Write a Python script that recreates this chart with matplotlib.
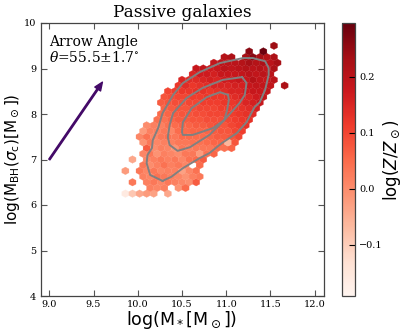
#!/usr/bin/python

import matplotlib
matplotlib.use('Agg')
import matplotlib.pyplot as plt
import numpy as np

_ = None

#hex cells, one row per y: y, x of first cell, log(Z/Zsun) in hundredths
row_y = [9.5, 9.375, 9.25, 9.125, 9.0, 8.875, 8.75, 8.625, 8.5, 8.375, 8.25, 8.125, 8.0, 7.875,
         7.75, 7.625, 7.5, 7.375, 7.25, 7.125, 7.0, 6.875, 6.75, 6.625, 6.5, 6.375, 6.25]
row_x0 = [11.54, 11.26, 10.98, 10.86, 10.66, 10.62, 10.5, 10.46, 10.34, 10.3, 10.26, 10.3, 10.26, 10.22,
          10.1, 10.06, 10.02, 10.06, 10.1, 10.06, 9.94, 10.06, 9.86, 10.06, 9.94, 10.14, 9.86]
row_z = [
    [24],
    [26, _, 29],
    [21, 22, _, 23, 26, 23, 21, 22],
    [19, 20, 20, 20, 21, 23, 21, 22, 20, 23],
    [18, 19, 17, 18, 20, 19, 20, 21, 20, 21, 19, 22],
    [15, 17, 17, 16, 18, 18, 18, 19, 20, 19, 20, 20],
    [15, 14, 14, 15, 16, 15, 17, 17, 18, 18, 21, 19, 18, 20],
    [12, 14, 12, 13, 14, 15, 15, 15, 16, 16, 18, 19, 19, 19, _, 22],
    [10, 11, 12, 12, 13, 13, 12, 13, 14, 15, 15, 17, 18, 18, 19],
    [8, 9, 10, 10, 11, 11, 12, 12, 12, 13, 14, 15, 15, 17, 19],
    [7, 8, 9, 9, 10, 10, 11, 11, 11, 12, 12, 13, 15, 16, 18],
    [6, 7, 8, 8, 9, 10, 10, 10, 11, 11, 12, 13, 14, 16],
    [5, 6, 7, 8, 8, 9, 9, 10, 10, 10, 11, 12, 13, 14],
    [4, 4, 6, 7, 7, 8, 8, 9, 9, 9, 10, 11, 12, 13],
    [0, 2, 2, 4, 5, 6, 6, 7, 7, 8, 9, 8, 10, 11, 13],
    [-2, 2, 2, 3, 1, 5, 5, 6, 6, 6, 7, 8, 8, 10, 11],
    [1, 4, 1, 3, 4, 3, 5, 5, 5, 5, 6, 7, 7, 8, 10],
    [-1, 3, 1, 2, 2, 3, 3, 4, 4, 5, 6, 6, -6, 8],
    [7, 0, 2, 1, -1, 3, 2, 3, 3, 3, 5, 4, 6],
    [1, 3, -1, 2, 1, 0, 3, 3, -2, 4, 6],
    [-4, _, 1, 2, 3, 2, 3, 1, 4, 5, 7],
    [3, 0, 2, 4, 2, 3, 1, _, 5],
    [-2, _, 3, 1, 3, 1, 2, 2, -3, 1, 4],
    [2, 1, 4, 3, 2, 1, -1, 2, 3],
    [3, _, 2, 3, 1, 3, 2, 1, 0, 7],
    [2, 1, 2, _, -1, 5],
    [-16, -9, -4, -2, -3, _, -4],
]

#density contours
outer_x = [10.28, 10.14, 10.10, 10.11, 10.16, 10.17, 10.23, 10.28, 10.40, 10.51, 10.70, 10.93, 11.19, 11.30,
           11.44, 11.48, 11.48, 11.44, 11.38, 11.32, 11.23, 11.12, 10.95, 10.81, 10.70, 10.51, 10.38, 10.28]
outer_y = [6.53, 6.66, 6.92, 7.10, 7.25, 7.43, 7.69, 8.02, 8.42, 8.68, 8.92, 9.12, 9.23, 9.23,
           9.16, 9.01, 8.86, 8.53, 8.26, 8.15, 7.82, 7.58, 7.36, 7.14, 7.03, 6.81, 6.62, 6.53]
middle_x = [11.18, 11.23, 11.21, 11.15, 10.98, 10.81, 10.59, 10.45, 10.36, 10.34, 10.36, 10.40, 10.55, 10.73, 10.96, 11.18]
middle_y = [8.81, 8.68, 8.42, 8.24, 7.87, 7.54, 7.27, 7.19, 7.32, 7.49, 7.76, 8.02, 8.35, 8.57, 8.75, 8.81]
inner_x = [11.02, 10.93, 10.78, 10.61, 10.51, 10.50, 10.51, 10.62, 10.85, 10.98, 11.01, 11.03, 11.02]
inner_y = [8.42, 8.48, 8.37, 8.13, 7.82, 7.60, 7.54, 7.54, 7.69, 7.87, 8.09, 8.31, 8.42]

arrow_start = (9.0, 7.0)
arrow_end = (9.6, 8.7)

#flatten rows
xs, ys, zs = [], [], []
for y, x0, vals in zip(row_y, row_x0, row_z):
    for k, v in enumerate(vals):
        if v is None:
            continue
        xs.append(x0 + 0.08 * k)
        ys.append(y)
        zs.append(v / 100.0)

fig = plt.figure(figsize=(4.07, 3.34), dpi=100)
ax = fig.add_axes([40.5 / 407, 1 - 296.0 / 334, 283.0 / 407, 273.0 / 334])
cax = fig.add_axes([341.5 / 407, 1 - 296.0 / 334, 13.5 / 407, 273.0 / 334])

hb = ax.hexbin(xs, ys, C=zs, gridsize=(40, 24), extent=(8.9, 12.1, 4, 10), cmap='Reds', vmin=-0.191, vmax=0.296, linewidths=0.2)

for cx, cy in [(outer_x, outer_y), (middle_x, middle_y), (inner_x, inner_y)]:
    ax.plot(cx, cy, color='#808080', lw=1.4)

ax.annotate('', xy=arrow_end, xytext=arrow_start,
            arrowprops=dict(color='#440a68', width=1.0, headwidth=5, headlength=6, shrink=0))

ax.text(9.0, 9.58, 'Arrow Angle', family='DejaVu Serif', fontsize=10, va='center')
ax.text(9.0, 9.24, r'$\theta$=55.5$\pm$1.7$^{\circ}$', family='DejaVu Serif', math_fontfamily='dejavuserif', fontsize=10, va='center')

ax.set_xlim(8.9, 12.1)
ax.set_ylim(4, 10)
ax.set_xticks([9.0, 9.5, 10.0, 10.5, 11.0, 11.5, 12.0])
ax.set_yticks([4, 5, 6, 7, 8, 9, 10])
ax.tick_params(direction='in', top=True, right=True, length=4, width=0.8, color='#555555', labelsize=7, pad=3)
for lab in ax.get_xticklabels() + ax.get_yticklabels():
    lab.set_family('DejaVu Serif')
for s in ax.spines.values():
    s.set_color('#444444')
    s.set_linewidth(0.9)

ax.set_title('Passive galaxies', family='DejaVu Serif', fontsize=12.2, pad=4)
ax.set_xlabel(r'log(M$_*$[M$_\odot$])', fontsize=12.5, va='center')
ax.xaxis.set_label_coords(0.5, -24.0 / 273)
ax.set_ylabel(r'log(M$_{\rm BH}$($\sigma_{\rm c}$)[M$_\odot$])', fontsize=11, va='center')
ax.yaxis.set_label_coords(-27.5 / 283, 0.5)

cb = fig.colorbar(hb, cax=cax)
cb.set_ticks([-0.1, 0.0, 0.1, 0.2])
cb.ax.tick_params(direction='in', length=4.5, width=0.8, labelsize=7, pad=3)
for lab in cb.ax.get_yticklabels():
    lab.set_family('DejaVu Serif')
cb.outline.set_edgecolor('#444444')
cb.outline.set_linewidth(0.9)
cb.set_label(r'log($Z/Z_\odot$)', fontsize=12, va='center', rotation=90)
cb.ax.yaxis.set_label_coords(50.5 / 13.5, 0.5)

fig.savefig('out.png', dpi=100)
plt.close(fig)
